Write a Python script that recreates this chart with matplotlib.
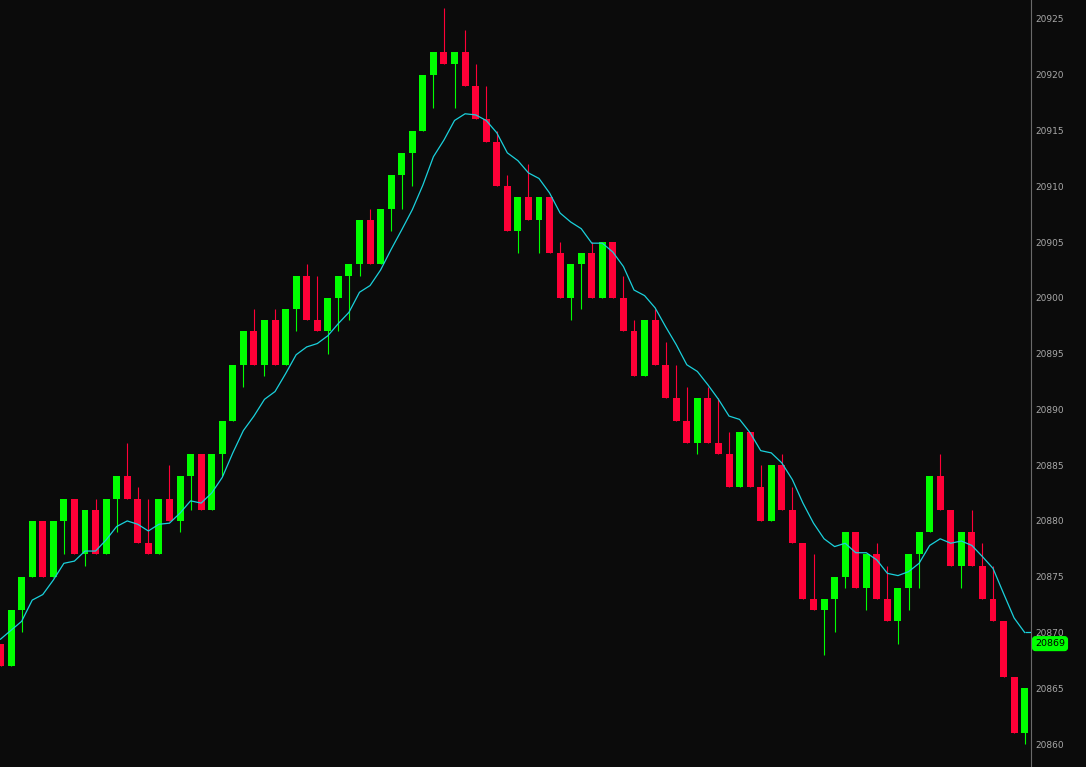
import matplotlib
matplotlib.use("Agg")
import matplotlib.pyplot as plt
import numpy as np

########################################################################
# Range bars (5 points each).
opens = [20869, 20867, 20872, 20875, 20880, 20875, 20880, 20882, 20877, 20881,
         20877, 20882, 20884, 20882, 20878, 20877, 20882, 20880, 20884, 20886,
         20881, 20886, 20889, 20894, 20897, 20894, 20898, 20894, 20899, 20902,
         20898, 20897, 20900, 20902, 20903, 20907, 20903, 20908, 20911, 20913,
         20915, 20920, 20922, 20921, 20922, 20919, 20916, 20914, 20910, 20906,
         20909, 20907, 20909, 20904, 20900, 20903, 20904, 20900, 20905, 20900,
         20897, 20893, 20898, 20894, 20891, 20889, 20887, 20891, 20887, 20886,
         20883, 20888, 20883, 20880, 20885, 20881, 20878, 20873, 20872, 20873,
         20875, 20879, 20874, 20877, 20873, 20871, 20874, 20877, 20879, 20884,
         20881, 20876, 20879, 20876, 20873, 20871, 20866, 20861]
highs = [20869, 20872, 20875, 20880, 20880, 20880, 20882, 20882, 20881, 20882,
         20882, 20884, 20887, 20883, 20882, 20882, 20885, 20884, 20886, 20886,
         20886, 20889, 20894, 20897, 20899, 20898, 20899, 20899, 20902, 20903,
         20902, 20900, 20902, 20903, 20907, 20908, 20908, 20911, 20913, 20915,
         20920, 20922, 20926, 20922, 20924, 20921, 20919, 20915, 20911, 20909,
         20912, 20909, 20909, 20905, 20903, 20904, 20905, 20905, 20905, 20902,
         20898, 20898, 20899, 20896, 20894, 20892, 20891, 20892, 20891, 20888,
         20888, 20888, 20885, 20885, 20886, 20883, 20878, 20877, 20873, 20875,
         20879, 20879, 20877, 20878, 20876, 20874, 20877, 20879, 20884, 20886,
         20881, 20879, 20881, 20878, 20876, 20871, 20866, 20865]
lows = [20867, 20867, 20870, 20875, 20875, 20875, 20877, 20877, 20876, 20877,
        20877, 20879, 20882, 20878, 20877, 20877, 20880, 20879, 20881, 20881,
        20881, 20884, 20889, 20892, 20894, 20893, 20894, 20894, 20897, 20898,
        20897, 20895, 20897, 20898, 20902, 20903, 20903, 20906, 20908, 20910,
        20915, 20917, 20921, 20917, 20919, 20916, 20914, 20910, 20906, 20904,
        20907, 20904, 20904, 20900, 20898, 20899, 20900, 20900, 20900, 20897,
        20893, 20893, 20894, 20891, 20889, 20887, 20886, 20887, 20886, 20883,
        20883, 20883, 20880, 20880, 20881, 20878, 20873, 20872, 20868, 20870,
        20874, 20874, 20872, 20873, 20871, 20869, 20872, 20874, 20879, 20881,
        20876, 20874, 20876, 20873, 20871, 20866, 20861, 20860]
closes = [20867, 20872, 20875, 20880, 20875, 20880, 20882, 20877, 20881, 20877,
          20882, 20884, 20882, 20878, 20877, 20882, 20880, 20884, 20886, 20881,
          20886, 20889, 20894, 20897, 20894, 20898, 20894, 20899, 20902, 20898,
          20897, 20900, 20902, 20903, 20907, 20903, 20908, 20911, 20913, 20915,
          20920, 20922, 20921, 20922, 20919, 20916, 20914, 20910, 20906, 20909,
          20907, 20909, 20904, 20900, 20903, 20904, 20900, 20905, 20900, 20897,
          20893, 20898, 20894, 20891, 20889, 20887, 20891, 20887, 20886, 20883,
          20888, 20883, 20880, 20885, 20881, 20878, 20873, 20872, 20873, 20875,
          20879, 20874, 20877, 20873, 20871, 20874, 20877, 20879, 20884, 20881,
          20876, 20879, 20876, 20873, 20871, 20866, 20861, 20865]

# Moving average line (cyan), read at each bar.
ma = [20869.4, 20870.2, 20871.0, 20872.9, 20873.4, 20874.7, 20876.2, 20876.4, 20877.3, 20877.3,
      20878.3, 20879.5, 20880.0, 20879.7, 20879.1, 20879.7, 20879.8, 20880.7, 20881.8, 20881.6,
      20882.5, 20883.9, 20886.1, 20888.1, 20889.4, 20890.9, 20891.6, 20893.2, 20894.9, 20895.6,
      20895.9, 20896.6, 20897.7, 20898.7, 20900.5, 20901.1, 20902.5, 20904.35, 20906.1, 20907.9,
      20910.1, 20912.65, 20914.15, 20915.9, 20916.5, 20916.4, 20915.9, 20914.8, 20913.0, 20912.3,
      20911.2, 20910.7, 20909.4, 20907.6, 20906.8, 20906.2, 20904.9, 20904.9, 20904.1, 20902.8,
      20900.7, 20900.2, 20899.1, 20897.4, 20895.8, 20894.0, 20893.4, 20892.2, 20890.9, 20889.4,
      20889.1, 20887.9, 20886.3, 20886.1, 20885.2, 20883.7, 20881.6, 20879.8, 20878.4, 20877.7,
      20878.0, 20877.15, 20877.15, 20876.5, 20875.3, 20875.1, 20875.45, 20876.2, 20877.8, 20878.4,
      20878.0, 20878.2, 20877.8, 20876.8, 20875.75, 20873.5, 20871.3, 20870.0]

last_price = 20869
yticks = [20860, 20865, 20870, 20875, 20880, 20885, 20890, 20895, 20900, 20905,
          20910, 20915, 20920, 20925]

########################################################################
BG = "#0b0b0b"
UP = "#00ff00"
DOWN = "#ff0037"

o = np.array(opens)
h = np.array(highs)
l = np.array(lows)
c = np.array(closes)
x = np.arange(len(o))
col = np.where(c >= o, UP, DOWN)

fig = plt.figure(figsize=(10.86, 7.67), dpi=100, facecolor=BG)
ax = fig.add_axes([0, 0, 1031 / 1086, 1])
ax.set_facecolor(BG)

# wicks then bodies
ax.vlines(x, l, h, colors=col, linewidth=0.8, zorder=2)
ax.bar(x, np.abs(c - o), bottom=np.minimum(o, c), width=0.66, color=col,
       linewidth=0, zorder=3)

# moving average, carried flat to the right edge
xmax = 97.6
ax.plot(x, ma, color="#1ad1dc", linewidth=0.9, zorder=4)
ax.hlines(ma[-1], x[-1], xmax, color="#1ad1dc", linewidth=0.9, zorder=4)

ax.set_xlim(-0.05, xmax)
ax.set_ylim(20857.94, 20926.70)

for s in ["top", "left", "bottom"]:
    ax.spines[s].set_visible(False)
ax.spines["right"].set_color("#6a6a6a")
ax.spines["right"].set_linewidth(0.8)
ax.set_xticks([])
ax.yaxis.tick_right()
ax.set_yticks(yticks)
ax.set_yticklabels([str(v) for v in yticks])
ax.tick_params(axis="y", length=0, pad=3, labelsize=6.5, labelcolor="#a8a8a8")

# last price tag
ax.text(1.0 + 4 / 1031, last_price, str(last_price),
        transform=ax.get_yaxis_transform(),
        ha="left", va="center", fontsize=6.8, color="#000000", zorder=10,
        clip_on=False,
        bbox=dict(boxstyle="round,pad=0.25,rounding_size=0.3", fc=UP, ec=UP))

fig.savefig("out.png", dpi=100, facecolor=BG)
